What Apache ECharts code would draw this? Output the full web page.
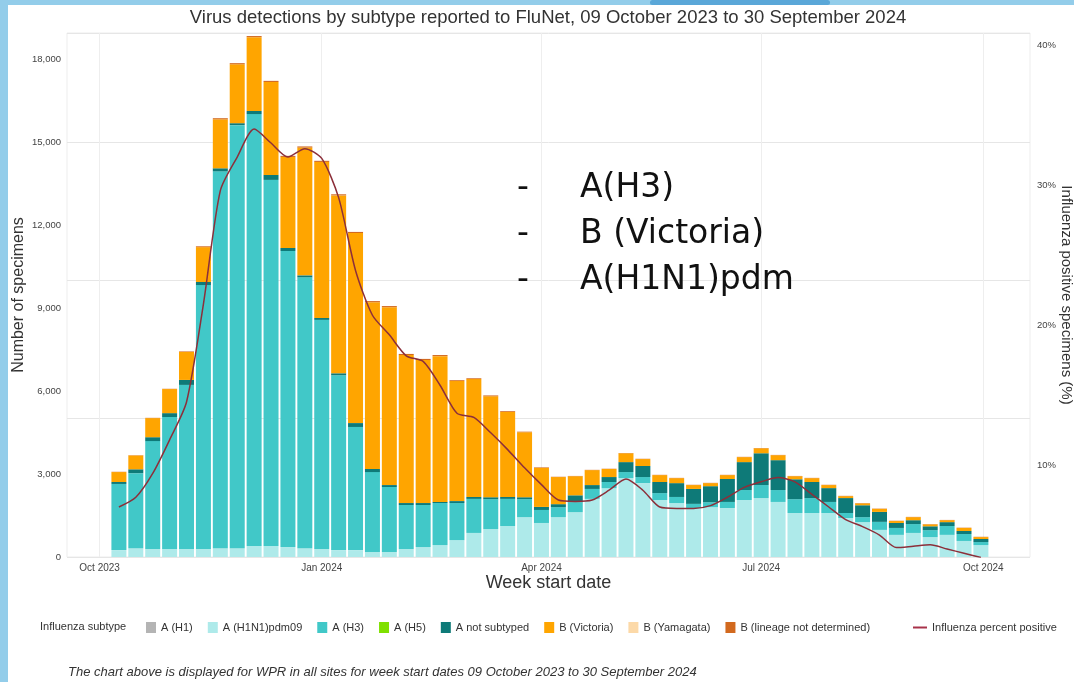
<!DOCTYPE html>
<html>
<head>
<meta charset="utf-8">
<title>Virus detections by subtype reported to FluNet</title>
<script src="https://cdn.jsdelivr.net/npm/echarts@6/dist/echarts.min.js"></script>
<style>
  html, body { margin: 0; padding: 0; background: #ffffff; }
  #chart { width: 1074px; height: 682px; }
</style>
</head>
<body>
<div id="chart"></div>
<script>
// week start dates (one bar per week)
const weeks = [
  '2023-10-09', '2023-10-16', '2023-10-23', '2023-10-30', '2023-11-06', '2023-11-13', '2023-11-20', '2023-11-27',
  '2023-12-04', '2023-12-11', '2023-12-18', '2023-12-25', '2024-01-01', '2024-01-08', '2024-01-15', '2024-01-22',
  '2024-01-29', '2024-02-05', '2024-02-12', '2024-02-19', '2024-02-26', '2024-03-04', '2024-03-11', '2024-03-18',
  '2024-03-25', '2024-04-01', '2024-04-08', '2024-04-15', '2024-04-22', '2024-04-29', '2024-05-06', '2024-05-13',
  '2024-05-20', '2024-05-27', '2024-06-03', '2024-06-10', '2024-06-17', '2024-06-24', '2024-07-01', '2024-07-08',
  '2024-07-15', '2024-07-22', '2024-07-29', '2024-08-05', '2024-08-12', '2024-08-19', '2024-08-26', '2024-09-02',
  '2024-09-09', '2024-09-16', '2024-09-23', '2024-09-30'
]

// specimens per subtype
const aH1 = [
  0, 0, 0, 0, 0, 0, 0, 0, 0, 0, 0, 0, 0, 0, 0, 0, 0, 0, 0, 0, 0, 0, 0, 0, 0, 0,
  0, 0, 0, 0, 0, 0, 0, 0, 0, 0, 0, 0, 0, 0, 0, 0, 0, 0, 0, 0, 0, 0, 0, 0, 0, 0
]
const aH1N1 = [
  250, 320, 290, 290, 290, 290, 320, 320, 400, 400, 360, 320, 290, 250, 250, 180, 180, 290, 360, 430,
  610, 870, 1010, 1120, 1440, 1230, 1440, 1620, 2100, 2490, 2850, 2670, 2060, 1950, 1770, 1800, 1770, 2060,
  2130, 1990, 1590, 1590, 1590, 1410, 1260, 980, 800, 870, 720, 800, 580, 430
]
const aH3 = [
  2390, 2710, 3900, 4770, 5930, 9540, 13620, 15290, 15610, 13230, 10700, 9790, 8280, 6320, 4450, 2890,
  2350, 1590, 1520, 1520, 1340, 1230, 1080, 980, 650, 470, 360, 360, 360, 220, 220, 220, 250, 220, 150,
  180, 220, 360, 470, 430, 500, 540, 400, 180, 180, 290, 250, 320, 250, 320, 250, 110
]
const aH5 = [
  0, 0, 0, 0, 0, 0, 0, 0, 0, 0, 0, 0, 0, 0, 0, 0, 0, 0, 0, 0, 0, 0, 0, 0, 0, 0,
  0, 0, 0, 0, 0, 0, 0, 0, 0, 0, 0, 0, 0, 0, 0, 0, 0, 0, 0, 0, 0, 0, 0, 0, 0, 0
]
const aNotSubtyped = [
  70, 140, 140, 140, 180, 110, 110, 70, 110, 180, 110, 70, 70, 70, 140, 110, 70, 70, 70, 40,
  70, 70, 70, 70, 70, 110, 110, 250, 140, 180, 360, 400, 400, 500, 540, 580, 830, 1010, 1150, 1080,
  720, 580, 500, 540, 430, 360, 180, 140, 140, 140, 110, 110
]
const bVictoria = [
  360, 500, 690, 870, 1010, 1260, 1770, 2130, 2670, 3360, 3290, 4620, 5640, 6430, 6870, 6030,
  6430, 5350, 5170, 5270, 4340, 4260, 3650, 3070, 2350, 1410, 980, 690, 540, 290, 320, 250, 250,
  180, 140, 110, 140, 180, 180, 180, 110, 140, 110, 70, 70, 110, 70, 110, 70, 70, 110, 70
]
const bYamagata = [
  0, 0, 0, 0, 0, 0, 0, 0, 0, 0, 0, 0, 0, 0, 0, 0, 0, 0, 0, 0, 0, 0, 0, 0, 0, 0,
  0, 0, 0, 0, 0, 0, 0, 0, 0, 0, 0, 0, 0, 0, 0, 0, 0, 0, 0, 0, 0, 0, 0, 0, 0, 0
]
const bLineageND = [
  10, 10, 10, 10, 20, 30, 40, 40, 40, 40, 40, 40, 40, 40, 40, 40, 40, 40, 40, 40, 30, 30, 30, 30, 20, 20,
  10, 10, 10, 10, 10, 10, 10, 10, 10, 10, 10, 10, 10, 10, 10, 10, 10, 10, 10, 10, 10, 10, 10, 10, 10, 10
]
// influenza percent positive (%)
const pctPositive = [
  7.0, 7.7, 9.4, 11.8, 14.5, 21.5, 29.6, 32.0, 34.0, 33.0, 32.0, 32.6, 31.9, 29.1, 23.9, 20.7,
  19.3, 17.8, 17.4, 15.7, 13.7, 13.4, 12.3, 11.1, 9.8, 8.6, 7.5, 7.4, 7.5, 8.2, 9.0, 8.2, 7.0,
  6.9, 6.9, 7.1, 7.7, 8.4, 8.8, 9.1, 8.8, 7.9, 7.0, 6.1, 5.6, 5.0, 4.1, 4.2, 4.3, 4.0, 3.7, 3.4
]

const countTicks = [0, 3000, 6000, 9000, 12000, 15000, 18000]
const pctTicks = [10, 20, 30, 40]
const monthTicks = ['2023-10-01', '2024-01-01', '2024-04-01', '2024-07-01', '2024-10-01']
const monthNames = ['Jan', 'Feb', 'Mar', 'Apr', 'May', 'Jun', 'Jul', 'Aug', 'Sep', 'Oct', 'Nov', 'Dec']

function toTime(s) {
  const p = s.split('-').map(Number)
  return new Date(p[0], p[1] - 1, p[2]).getTime()
}

const FONT = '"Liberation Sans", Arial, sans-serif'
const GRID_W = 963
const BAR_W = 15
const X_MIN = new Date(2023, 8, 17, 12).getTime()
const X_MAX = new Date(2024, 9, 20, 8).getTime()
// the time axis widens itself by half a bar on each side, so start a bit inside
const X_PAD = (BAR_W / 2) * (X_MAX - X_MIN) / GRID_W
const chart = echarts.init(document.getElementById('chart'))

function barSeries(name, values, color) {
  return {
    name: name,
    type: 'bar',
    stack: 'specimens',
    barWidth: BAR_W,
    itemStyle: { color: color },
    emphasis: { disabled: true },
    data: weeks.map((w, i) => [toTime(w), values[i]])
  }
}

const subtypeSeries = [
  barSeries('A (H1)', aH1, '#b4b4b4'),
  barSeries('A (H1N1)pdm09', aH1N1, '#aeeaea'),
  barSeries('A (H3)', aH3, '#41c8c8'),
  barSeries('A (H5)', aH5, '#7fe000'),
  barSeries('A not subtyped', aNotSubtyped, '#0e7a78'),
  barSeries('B (Victoria)', bVictoria, '#ffa500'),
  barSeries('B (Yamagata)', bYamagata, '#fcd9a8'),
  barSeries('B (lineage not determined)', bLineageND, '#d2691e')
]

const overlayFont = '33px "DejaVu Sans"'

chart.setOption({
  backgroundColor: '#ffffff',
  animation: false,
  textStyle: { fontFamily: FONT },
  grid: {
    left: 67,
    right: 44,
    top: 33,
    bottom: 125,
    outerBoundsMode: 'none',
    show: true,
    borderColor: '#ededed',
    borderWidth: 1
  },
  legend: [
    {
      data: subtypeSeries.map(s => ({ name: s.name, icon: 'rect' })),
      left: 141,
      top: 617,
      itemWidth: 10,
      itemHeight: 11,
      itemGap: 15,
      selectedMode: false,
      textStyle: { fontSize: 11, color: '#333', fontFamily: FONT }
    },
    {
      data: [{ name: 'Influenza percent positive', icon: 'rect' }],
      left: 908,
      top: 617,
      itemWidth: 14,
      itemHeight: 2,
      selectedMode: false,
      textStyle: { fontSize: 11, color: '#333', fontFamily: FONT }
    }
  ],
  xAxis: [
    {
      // week axis carrying the marks
      type: 'time',
      min: X_MIN + X_PAD,
      max: X_MAX - X_PAD,
      axisLine: { show: false },
      axisTick: { show: false },
      axisLabel: { show: false },
      splitLine: { show: false }
    },
    {
      // month labels and vertical gridlines
      type: 'value',
      min: X_MIN,
      max: X_MAX,
      position: 'bottom',
      name: 'Week start date',
      nameLocation: 'middle',
      nameGap: 17,
      nameMoveOverlap: false,
      nameTextStyle: { fontSize: 18, color: '#333' },
      axisLine: { show: false },
      axisTick: { show: false, customValues: monthTicks.map(toTime) },
      axisLabel: {
        customValues: monthTicks.map(toTime),
        margin: 6,
        fontSize: 10,
        color: '#444',
        formatter: v => {
          const d = new Date(v)
          return monthNames[d.getMonth()] + ' ' + d.getFullYear()
        }
      },
      splitLine: { show: true, lineStyle: { color: '#eeeeee', width: 1 } }
    }
  ],
  yAxis: [
    {
      type: 'value',
      min: 0,
      max: 18940,
      name: 'Number of specimens',
      nameLocation: 'middle',
      nameGap: 40,
      nameMoveOverlap: false,
      nameTextStyle: { fontSize: 16, color: '#333' },
      axisLine: { show: false },
      axisTick: { show: false },
      axisLabel: {
        customValues: countTicks,
        margin: 6,
        fontSize: 9.5,
        color: '#444',
        formatter: v => v.toLocaleString('en-US')
      },
      splitLine: { show: false }
    },
    {
      type: 'value',
      min: 3.43,
      max: 40.86,
      position: 'right',
      name: 'Influenza positive specimens (%)',
      nameLocation: 'middle',
      nameRotate: -90,
      nameGap: 29,
      nameMoveOverlap: false,
      nameTextStyle: { fontSize: 15, color: '#333' },
      axisLine: { show: false },
      axisTick: { show: false },
      axisLabel: {
        customValues: pctTicks,
        margin: 7,
        fontSize: 9.5,
        color: '#444',
        formatter: v => v + '%'
      },
      splitLine: { show: false }
    },
    {
      // gridlines only
      type: 'value',
      min: 0,
      max: 18940,
      interval: 5000,
      position: 'left',
      axisLine: { show: false },
      axisTick: { show: false },
      axisLabel: { show: false },
      splitLine: { show: true, lineStyle: { color: '#e6e6e6', width: 1 } }
    }
  ],
  series: subtypeSeries.concat([
    {
      name: 'Influenza percent positive',
      type: 'line',
      yAxisIndex: 1,
      smooth: 0.25,
      symbol: 'none',
      z: 5,
      lineStyle: { color: '#8c2f3a', width: 1.5 },
      itemStyle: { color: '#a8324a' },
      emphasis: { disabled: true },
      data: weeks.map((w, i) => [toTime(w), pctPositive[i]])
    }
  ]),
  graphic: [
    // slide frame
    { type: 'rect', shape: { x: 0, y: 0, width: 8, height: 682 }, style: { fill: '#93cdea' }, silent: true },
    { type: 'rect', shape: { x: 0, y: 0, width: 1074, height: 5 }, style: { fill: '#93cdea' }, silent: true },
    { type: 'rect', shape: { x: 650, y: 0, width: 180, height: 5, r: 3 }, style: { fill: '#5aa7d8' }, silent: true },
    {
      type: 'text', x: 548, y: 18,
      style: { text: 'Virus detections by subtype reported to FluNet, 09 October 2023 to 30 September 2024',
        font: '18.5px ' + FONT, fill: '#333', textAlign: 'center', textVerticalAlign: 'middle' }
    },
    {
      type: 'text', x: 40, y: 627,
      style: { text: 'Influenza subtype', font: '11px ' + FONT, fill: '#333', textVerticalAlign: 'middle' }
    },
    {
      type: 'text', x: 68, y: 672,
      style: { text: 'The chart above is displayed for WPR in all sites for week start dates 09 October 2023 to 30 September 2024',
        font: 'italic 13px ' + FONT, fill: '#333', textVerticalAlign: 'middle' }
    },
    { type: 'text', x: 517, y: 188, z: 20, style: { text: '-', font: overlayFont, fill: '#111', textVerticalAlign: 'middle' } },
    { type: 'text', x: 580, y: 188, z: 20, style: { text: 'A(H3)', font: overlayFont, fill: '#111', textVerticalAlign: 'middle' } },
    { type: 'text', x: 517, y: 234, z: 20, style: { text: '-', font: overlayFont, fill: '#111', textVerticalAlign: 'middle' } },
    { type: 'text', x: 580, y: 234, z: 20, style: { text: 'B (Victoria)', font: overlayFont, fill: '#111', textVerticalAlign: 'middle' } },
    { type: 'text', x: 517, y: 280, z: 20, style: { text: '-', font: overlayFont, fill: '#111', textVerticalAlign: 'middle' } },
    { type: 'text', x: 580, y: 280, z: 20, style: { text: 'A(H1N1)pdm', font: overlayFont, fill: '#111', textVerticalAlign: 'middle' } }
  ]
})
</script>
</body>
</html>
